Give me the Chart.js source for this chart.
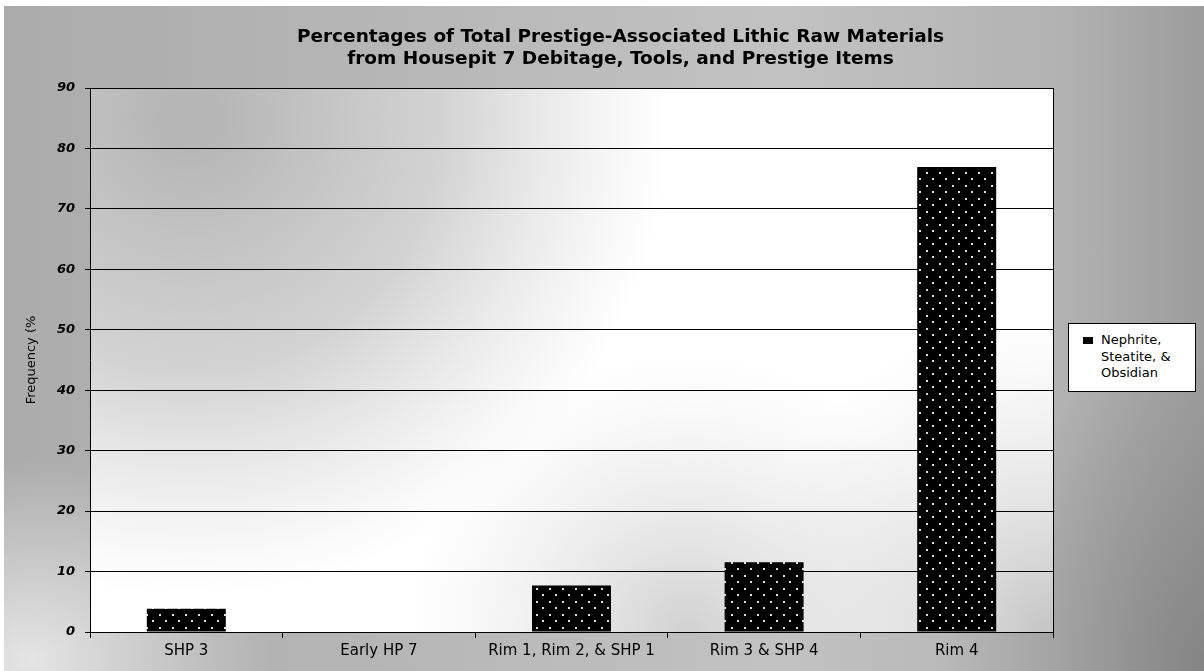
<!DOCTYPE html>
<html>
<head>
<meta charset="utf-8">
<script src="https://cdn.jsdelivr.net/npm/chart.js@4"></script>
<style>
  body { margin: 0; }
  #wrap {
    position: relative; width: 1204px; height: 671px; overflow: hidden;
    background:
      radial-gradient(ellipse 240px 200px at 30px 660px, rgba(235,235,235,0.9), rgba(235,235,235,0)),
      radial-gradient(ellipse 260px 300px at 1204px 660px, rgba(110,110,110,0.5), rgba(110,110,110,0)),
      linear-gradient(to right, #ababab 0%, #b7b7b7 35%, #c2c2c2 65%, #b2b2b2 88%, #9c9c9c 100%);
    font-family: "DejaVu Sans", sans-serif;
  }
  #wrap canvas { position: absolute; left: 0; top: 0; }
  .edge { position: absolute; background: #fff; }
  #legend {
    position: absolute; left: 1068px; top: 323px; width: 126px; height: 67px;
    background: #fff; border: 1px solid #000; font-size: 13px; color: #000;
  }
  #legend .sw { position: absolute; left: 14px; top: 13px; width: 10px; height: 7px; background: #000; }
  #legend .txt { position: absolute; left: 32px; top: 8px; line-height: 16.5px; }
</style>
</head>
<body>
<div id="wrap">
  <div class="edge" style="left:0;top:0;width:1204px;height:6px"></div>
  <div class="edge" style="left:0;top:0;width:4px;height:671px"></div>
  <canvas id="myChart" width="1204" height="671"></canvas>
  <div id="legend"></div>
</div>
<script>
// du lieu doc tu hinh
var categories = ['SHP 3', 'Early HP 7', 'Rim 1, Rim 2, & SHP 1', 'Rim 3 & SHP 4', 'Rim 4'];
var values = [3.85, 0, 7.69, 11.54, 76.92];
var seriesName = 'Nephrite, Steatite, & Obsidian';
var legendLines = ['Nephrite,', 'Steatite, &', 'Obsidian'];
var titleLines = ['Percentages of Total Prestige-Associated Lithic Raw Materials',
                  'from Housepit 7 Debitage, Tools, and Prestige Items'];
var yLabel = 'Frequency (%';
var yMin = 0, yMax = 90, yStep = 10;

var FONT = '"DejaVu Sans", sans-serif';

// hoa van cham trang tren nen den
function dotPattern() {
    var c = document.createElement('canvas');
    c.width = 13; c.height = 13;
    var g = c.getContext('2d');
    g.fillStyle = '#000';
    g.fillRect(0, 0, 13, 13);
    g.fillStyle = '#dddddd';
    g.fillRect(3, 3, 2, 2);
    g.fillRect(9, 9, 2, 2);
    return g.createPattern(c, 'repeat');
}

// nen vung ve + vien phai
var plotBg = {
    id: 'plotBg',
    beforeDraw: function (chart) {
        var a = chart.chartArea, ctx = chart.ctx;
        ctx.save();
        ctx.fillStyle = '#ffffff';
        ctx.fillRect(a.left, a.top, a.width, a.height);
        // xam o goc tren ben trai
        var g1 = ctx.createRadialGradient(a.left + 100, a.top + 30, 30, a.left + 100, a.top + 30, 480);
        g1.addColorStop(0, 'rgba(182,182,182,1)');
        g1.addColorStop(0.5, 'rgba(192,192,192,0.7)');
        g1.addColorStop(1, 'rgba(210,210,210,0)');
        ctx.fillStyle = g1;
        ctx.fillRect(a.left, a.top, a.width, a.height);
        // xam nhat o giua phia duoi
        var g2 = ctx.createRadialGradient(a.left + a.width * 0.62, a.bottom, 10, a.left + a.width * 0.62, a.bottom, 280);
        g2.addColorStop(0, 'rgba(200,200,200,0.8)');
        g2.addColorStop(1, 'rgba(225,225,225,0)');
        ctx.fillStyle = g2;
        ctx.fillRect(a.left, a.top, a.width, a.height);
        // xam o goc duoi ben phai
        var g3 = ctx.createRadialGradient(a.right, a.bottom, 10, a.right, a.bottom, 320);
        g3.addColorStop(0, 'rgba(185,185,185,0.8)');
        g3.addColorStop(1, 'rgba(220,220,220,0)');
        ctx.fillStyle = g3;
        ctx.fillRect(a.left, a.top, a.width, a.height);
        ctx.restore();
    },
    afterDraw: function (chart) {
        var a = chart.chartArea, ctx = chart.ctx;
        ctx.save();
        ctx.strokeStyle = '#000';
        ctx.lineWidth = 1;
        ctx.beginPath();
        ctx.moveTo(a.right + 0.5, a.top);
        ctx.lineTo(a.right + 0.5, a.bottom);
        ctx.stroke();
        ctx.restore();
    }
};

// doi tieu de sang phai
var titleShift = {
    id: 'titleShift',
    afterLayout: function (chart) {
        if (chart.titleBlock) {
            chart.titleBlock.left += 84;
            chart.titleBlock.right += 84;
        }
    }
};

var bieudo = new Chart('myChart', {
    type: 'bar',
    data: {
        labels: categories,
        datasets: [{
            label: seriesName,
            data: values,
            backgroundColor: dotPattern(),
            borderWidth: 0,
            categoryPercentage: 1,
            barPercentage: 0.41
        }]
    },
    options: {
        responsive: false,
        devicePixelRatio: 1,
        animation: false,
        layout: { padding: { left: 20, right: 151, top: 0, bottom: 0 } },
        plugins: {
            legend: { display: false },
            tooltip: { enabled: false },
            title: {
                display: true,
                text: titleLines,
                color: '#000',
                font: { family: FONT, size: 18.5, weight: 'bold', lineHeight: 1.2 },
                padding: { top: 26, bottom: 17.6 }
            }
        },
        scales: {
            x: {
                grid: { display: true, drawOnChartArea: false, drawTicks: true, tickLength: 6, color: '#000', offset: true },
                border: { display: true, color: '#000', width: 1 },
                ticks: { color: '#000', padding: 4, maxRotation: 0, autoSkip: false,
                         font: { family: FONT, size: 15 } },
                afterFit: function (s) { s.height = 39; }
            },
            y: {
                min: yMin, max: yMax,
                grid: { color: '#000', lineWidth: 1, tickLength: 5 },
                border: { display: true, color: '#000', width: 1 },
                ticks: { stepSize: yStep, color: '#000', padding: 10,
                         font: { family: FONT, size: 13, weight: 'bold', style: 'italic' } },
                title: { display: true, text: yLabel, color: '#000', padding: { top: 4, bottom: 0 },
                         font: { family: FONT, size: 13, lineHeight: 1.2 } },
                afterFit: function (s) { s.width = 70; }
            }
        }
    },
    plugins: [plotBg, titleShift]
});

// chu giai
var lg = document.getElementById('legend');
lg.innerHTML = '<div class="sw"></div><div class="txt">' + legendLines.join('<br>') + '</div>';
</script>
</body>
</html>
